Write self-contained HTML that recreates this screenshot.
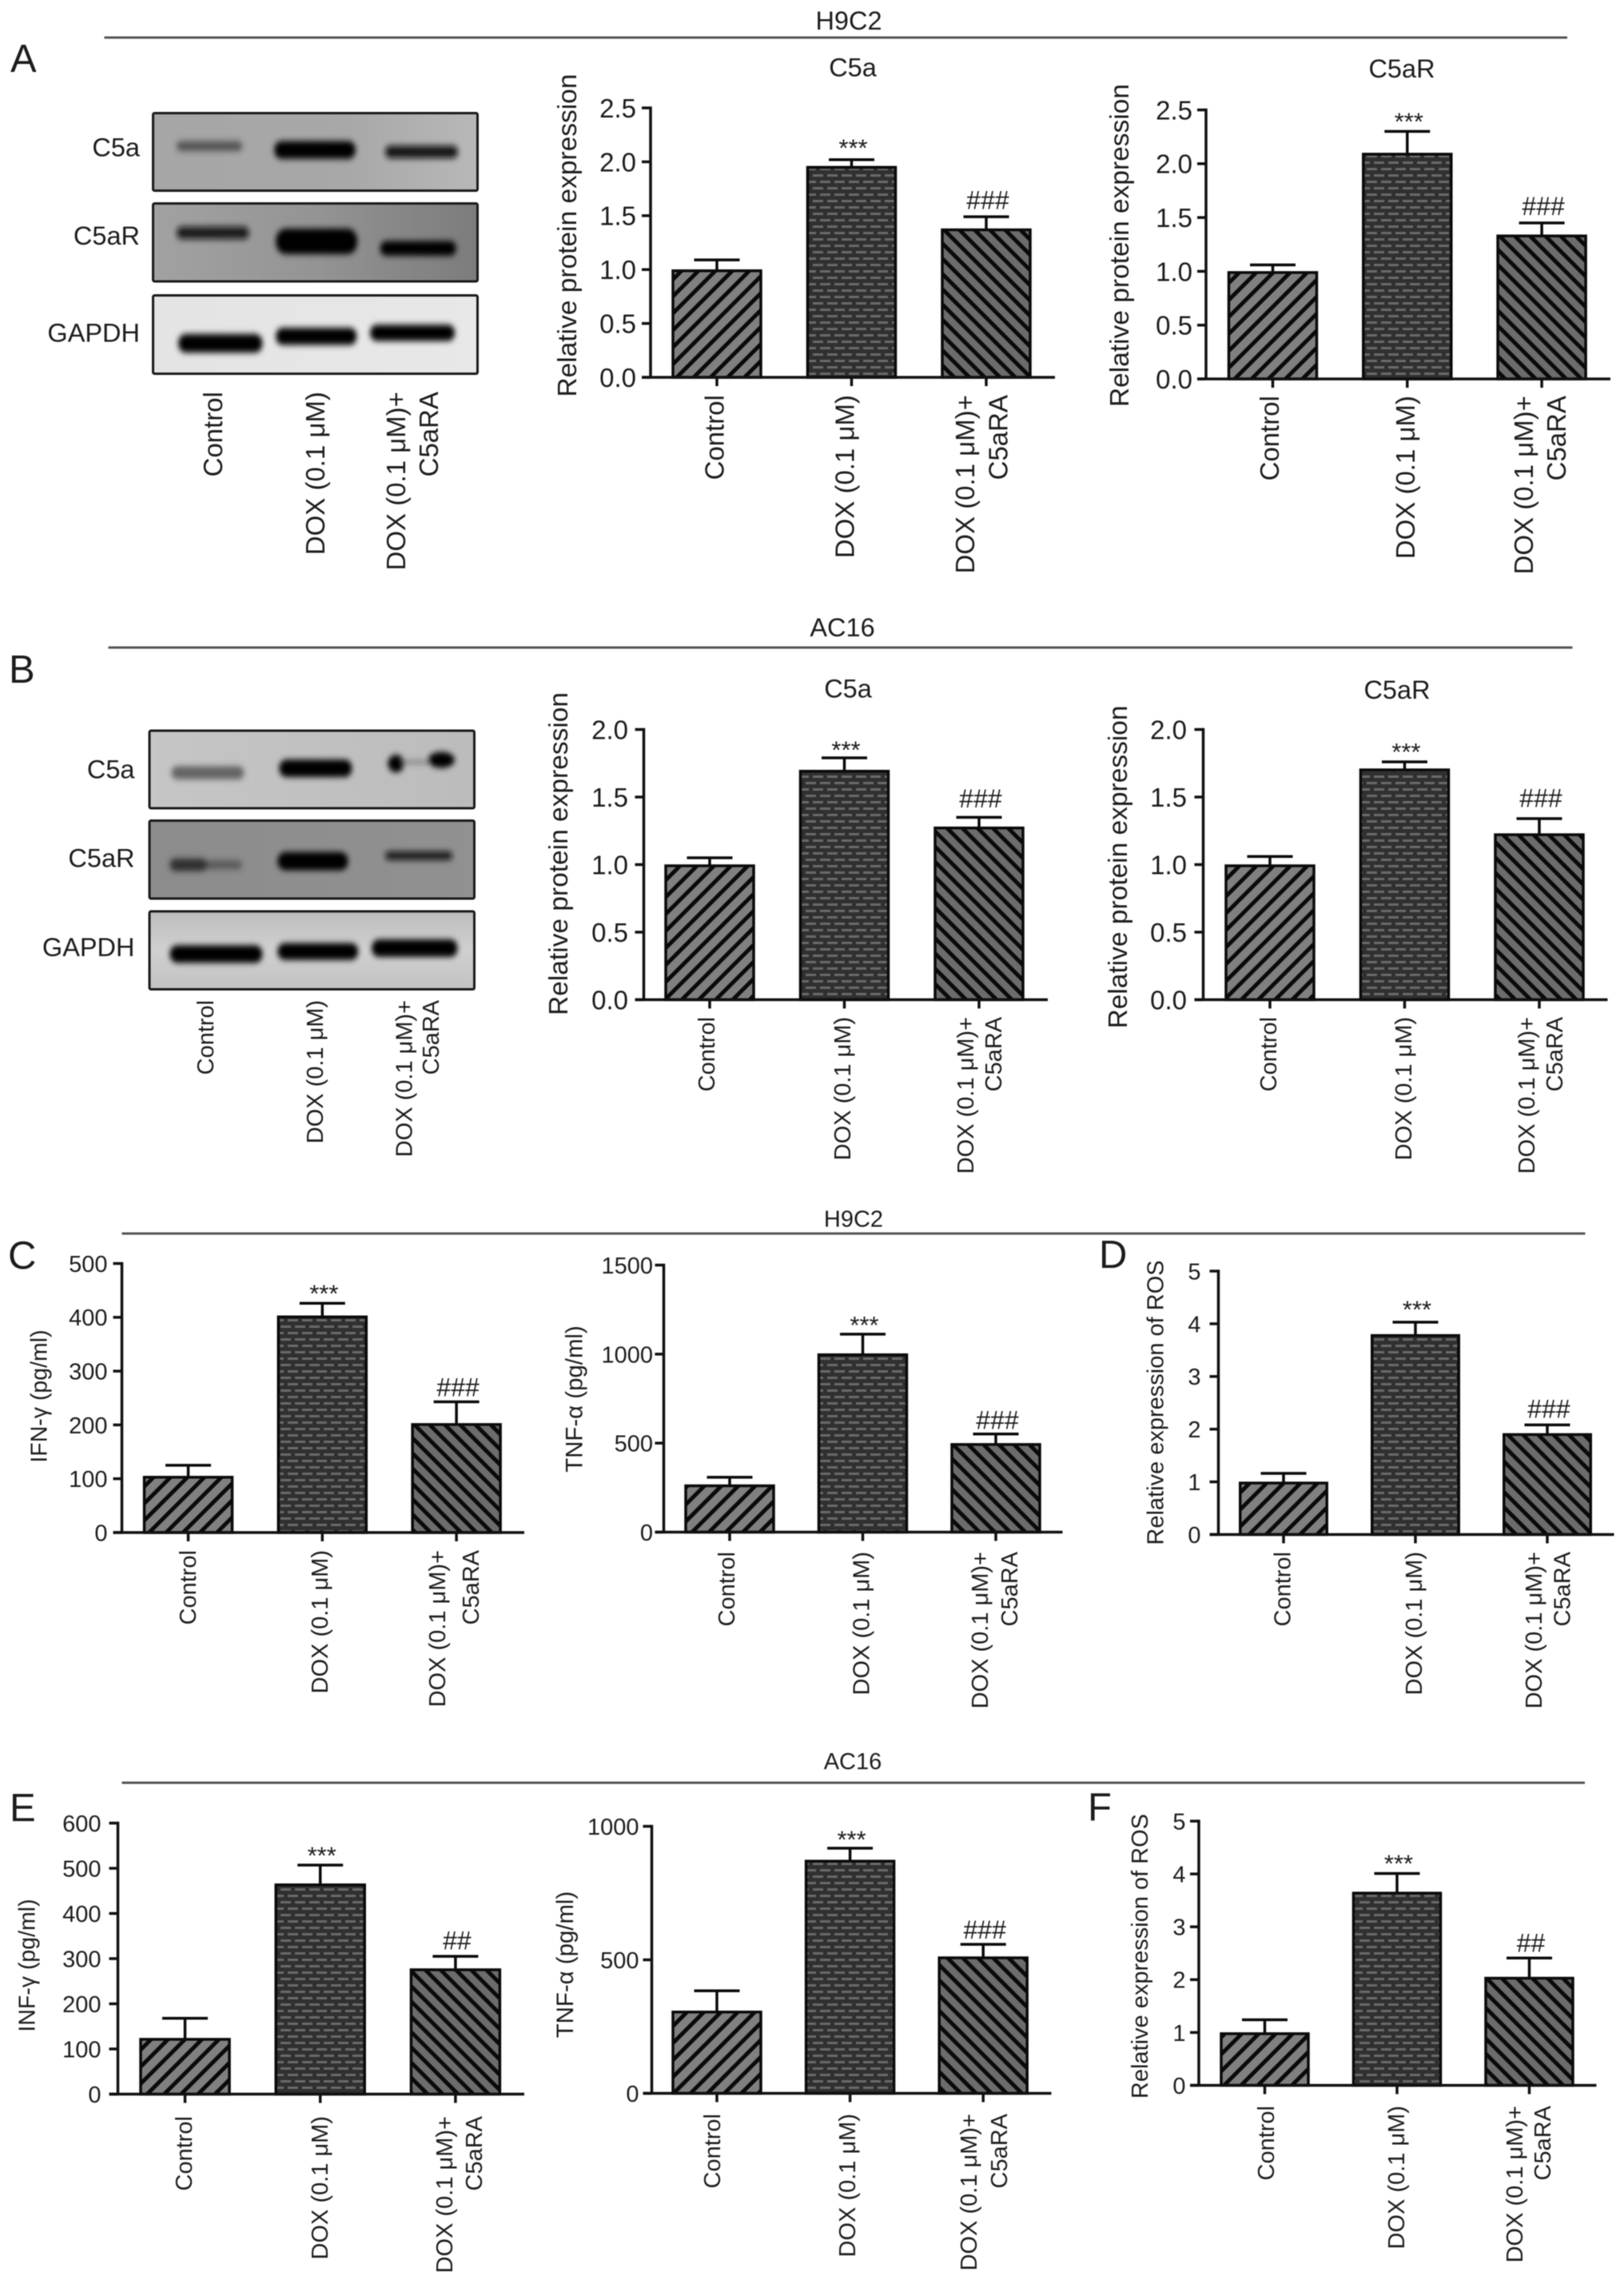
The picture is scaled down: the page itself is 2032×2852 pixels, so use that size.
<!DOCTYPE html>
<html lang="en">
<head>
<meta charset="utf-8">
<title>C5a and C5aR expression in H9C2 and AC16 cells</title>
<style>
html,body{margin:0;padding:0;background:#fff;}
svg{display:block;filter:blur(0.5px);}
text{font-family:"Liberation Sans",Arial,"Noto Sans CJK SC",sans-serif;fill:#1c1c1c;}
</style>
</head>
<body>
<svg id="figure" xmlns="http://www.w3.org/2000/svg" width="2032" height="2852" viewBox="0 0 2032 2852">
<defs>
  <pattern id="stripe-up" patternUnits="userSpaceOnUse" width="15" height="15" patternTransform="rotate(-45)">
    <rect width="15" height="15" fill="#808080"/><rect x="0" y="0" width="15" height="5" fill="#0a0a0a"/>
  </pattern>
  <pattern id="stripe-down" patternUnits="userSpaceOnUse" width="13.5" height="13.5" patternTransform="rotate(45)">
    <rect width="13.5" height="13.5" fill="#6c6c6c"/><rect x="0" y="0" width="13.5" height="5" fill="#0a0a0a"/>
  </pattern>
  <pattern id="brick" patternUnits="userSpaceOnUse" width="18" height="16">
    <rect width="18" height="16" fill="#303030"/>
    <rect x="0" y="2" width="13" height="3" fill="#6a6a6a"/>
    <rect x="9" y="10" width="13" height="3" fill="#6a6a6a"/>
    <rect x="-9" y="10" width="13" height="3" fill="#6a6a6a"/>
  </pattern>
  <filter id="blur" x="-30%" y="-100%" width="160%" height="300%"><feGaussianBlur stdDeviation="8"/></filter>
  <linearGradient id="bg-a1" x1="0" x2="1" y1="0" y2="0"><stop offset="0" stop-color="#a6a6a6"/><stop offset="0.6" stop-color="#a8a8a8"/><stop offset="1" stop-color="#b8b8b8"/></linearGradient>
  <linearGradient id="bg-a2" x1="0" x2="1" y1="0" y2="0"><stop offset="0" stop-color="#a2a2a2"/><stop offset="0.5" stop-color="#949494"/><stop offset="1" stop-color="#7c7c7c"/></linearGradient>
  <linearGradient id="bg-a3" x1="0" x2="1" y1="0" y2="0"><stop offset="0" stop-color="#e4e4e4"/><stop offset="1" stop-color="#e8e8e8"/></linearGradient>
  <linearGradient id="bg-b1" x1="0" x2="1" y1="0" y2="0"><stop offset="0" stop-color="#c6c6c6"/><stop offset="1" stop-color="#bcbcbc"/></linearGradient>
  <linearGradient id="bg-b2" x1="0" x2="1" y1="0" y2="0"><stop offset="0" stop-color="#8c8c8c"/><stop offset="1" stop-color="#919191"/></linearGradient>
  <linearGradient id="bg-b3" x1="0" x2="0" y1="0" y2="1"><stop offset="0" stop-color="#bdbdbd"/><stop offset="0.5" stop-color="#d0d0d0"/><stop offset="1" stop-color="#c2c2c2"/></linearGradient>
</defs>

<!-- Section headers -->
<g>
  <text x="1062" y="37" font-size="32.5" text-anchor="middle">H9C2</text>
  <line x1="130.5" y1="47" x2="1961" y2="47" stroke="#555" stroke-width="3"/>
</g>
<g>
  <text x="1054" y="796" font-size="32.5" text-anchor="middle">AC16</text>
  <line x1="135.5" y1="810" x2="1967.5" y2="810" stroke="#555" stroke-width="3"/>
</g>
<g>
  <text x="1068" y="1534.5" font-size="29" text-anchor="middle">H9C2</text>
  <line x1="152.5" y1="1543" x2="1983.5" y2="1543" stroke="#555" stroke-width="3"/>
</g>
<g>
  <text x="1067" y="2213" font-size="29" text-anchor="middle">AC16</text>
  <line x1="152.5" y1="2230" x2="1983" y2="2230" stroke="#555" stroke-width="3"/>
</g>

<!-- Panel letters -->
<text x="13" y="90" font-size="49" fill="#111">A</text>
<text x="11" y="854" font-size="49" fill="#111">B</text>
<text x="10" y="1587" font-size="49" fill="#111">C</text>
<text x="1375" y="1586" font-size="49" fill="#111">D</text>
<text x="12" y="2278" font-size="49" fill="#111">E</text>
<text x="1361" y="2277" font-size="49" fill="#111">F</text>

<!-- Western blot A -->
<g>
  <text x="175" y="195.5" font-size="32.5" text-anchor="end">C5a</text>
  <text x="175" y="306" font-size="32.5" text-anchor="end">C5aR</text>
  <text x="175" y="427.5" font-size="32.5" text-anchor="end">GAPDH</text>
  <rect x="191.5" y="141.5" width="406" height="97" fill="url(#bg-a1)"/>
  <rect x="191.5" y="254.5" width="406" height="97.5" fill="url(#bg-a2)"/>
  <rect x="191.5" y="369.5" width="406" height="98" fill="url(#bg-a3)"/>
  <g transform="scale(0.4209 0.4847)" filter="url(#blur)">
    <rect x="525" y="364" width="195" height="26" rx="13" fill="#333" opacity="0.7"/>
    <rect x="815" y="364" width="242" height="46" rx="22" fill="#000"/>
    <rect x="1145" y="376" width="216" height="32" rx="15" fill="#0a0a0a" opacity="0.95"/>
    <rect x="525" y="585" width="215" height="32" rx="15" fill="#0a0a0a" opacity="0.9"/>
    <rect x="820" y="590" width="242" height="66" rx="30" fill="#000"/>
    <rect x="1130" y="622" width="226" height="38" rx="18" fill="#000"/>
    <rect x="530" y="862" width="250" height="48" rx="22" fill="#000"/>
    <rect x="820" y="846" width="240" height="44" rx="20" fill="#000"/>
    <rect x="1100" y="838" width="252" height="42" rx="20" fill="#000"/>
  </g>
  <rect x="191.5" y="141.5" width="406" height="97" rx="2" fill="none" stroke="#1a1a1a" stroke-width="3"/>
  <rect x="191.5" y="254.5" width="406" height="97.5" rx="2" fill="none" stroke="#1a1a1a" stroke-width="3"/>
  <rect x="191.5" y="369.5" width="406" height="98" rx="2" fill="none" stroke="#1a1a1a" stroke-width="3"/>
  <text transform="translate(278 490) rotate(-90)" font-size="33" text-anchor="end">Control</text>
  <text transform="translate(406 490) rotate(-90)" font-size="33" text-anchor="end">DOX (0.1 μM)</text>
  <text transform="translate(507 490) rotate(-90)" font-size="33" text-anchor="end">DOX (0.1 μM)+</text>
  <text transform="translate(548 490) rotate(-90)" font-size="33" text-anchor="end">C5aRA</text>
</g>

<!-- Western blot B -->
<g>
  <text x="168.5" y="973.5" font-size="32.5" text-anchor="end">C5a</text>
  <text x="168.5" y="1084.5" font-size="32.5" text-anchor="end">C5aR</text>
  <text x="168.5" y="1196" font-size="32.5" text-anchor="end">GAPDH</text>
  <rect x="187" y="914" width="406.5" height="97" fill="url(#bg-b1)"/>
  <rect x="187" y="1026.5" width="406.5" height="97.5" fill="url(#bg-b2)"/>
  <rect x="187" y="1140" width="406.5" height="97.5" fill="url(#bg-b3)"/>
  <g transform="translate(0 760) scale(0.4209 0.4591)" filter="url(#blur)">
    <rect x="510" y="432" width="215" height="36" rx="17" fill="#444" opacity="0.75"/>
    <rect x="830" y="414" width="216" height="48" rx="22" fill="#000"/>
    <circle cx="1177" cy="425" r="24" fill="#050505"/>
    <ellipse cx="1312" cy="415" rx="40" ry="22" fill="#000"/>
    <rect x="1190" y="416" width="90" height="10" fill="#555" opacity="0.6"/>
    <rect x="505" y="684" width="110" height="34" rx="16" fill="#1c1c1c" opacity="0.85"/>
    <rect x="600" y="688" width="120" height="26" rx="13" fill="#3a3a3a" opacity="0.6"/>
    <rect x="825" y="666" width="210" height="50" rx="24" fill="#000"/>
    <rect x="1145" y="664" width="200" height="24" rx="12" fill="#111" opacity="0.9"/>
    <rect x="505" y="920" width="275" height="48" rx="22" fill="#000"/>
    <rect x="825" y="914" width="240" height="46" rx="22" fill="#000"/>
    <rect x="1105" y="904" width="255" height="48" rx="22" fill="#000"/>
  </g>
  <rect x="187" y="914" width="406.5" height="97" rx="2" fill="none" stroke="#1a1a1a" stroke-width="3"/>
  <rect x="187" y="1026.5" width="406.5" height="97.5" rx="2" fill="none" stroke="#1a1a1a" stroke-width="3"/>
  <rect x="187" y="1140" width="406.5" height="97.5" rx="2" fill="none" stroke="#1a1a1a" stroke-width="3"/>
  <text transform="translate(267 1251) rotate(-90)" font-size="29" text-anchor="end">Control</text>
  <text transform="translate(404 1251) rotate(-90)" font-size="29" text-anchor="end">DOX (0.1 μM)</text>
  <text transform="translate(515.5 1251) rotate(-90)" font-size="29" text-anchor="end">DOX (0.1 μM)+</text>
  <text transform="translate(549 1251) rotate(-90)" font-size="29" text-anchor="end">C5aRA</text>
</g>

<g id="charts"></g>
</svg>

<script>
// ---- Chart data ----
const categories = ["Control", "DOX (0.1 μM)", "DOX (0.1 μM)+\nC5aRA"];

const a1Values = [1.00, 1.96, 1.38];
const a1Errors = [0.09, 0.06, 0.11];
const a1Ticks = ["0.0", "0.5", "1.0", "1.5", "2.0", "2.5"];
const a1Marks = ["", "***", "###"];

const a2Values = [1.00, 2.10, 1.34];
const a2Errors = [0.06, 0.20, 0.11];
const a2Ticks = ["0.0", "0.5", "1.0", "1.5", "2.0", "2.5"];
const a2Marks = ["", "***", "###"];

const b1Values = [1.00, 1.70, 1.28];
const b1Errors = [0.05, 0.09, 0.07];
const b1Ticks = ["0.0", "0.5", "1.0", "1.5", "2.0"];
const b1Marks = ["", "***", "###"];

const b2Values = [1.00, 1.71, 1.23];
const b2Errors = [0.06, 0.05, 0.11];
const b2Ticks = ["0.0", "0.5", "1.0", "1.5", "2.0"];
const b2Marks = ["", "***", "###"];

const c1Values = [105, 403, 203];
const c1Errors = [20, 23, 40];
const c1Ticks = ["0", "100", "200", "300", "400", "500"];
const c1Marks = ["", "***", "###"];

const c2Values = [267, 1003, 499];
const c2Errors = [41, 109, 52];
const c2Ticks = ["0", "500", "1000", "1500"];
const c2Marks = ["", "***", "###"];

const dValues = [1.00, 3.80, 1.92];
const dErrors = [0.16, 0.23, 0.16];
const dTicks = ["0", "1", "2", "3", "4", "5"];
const dMarks = ["", "***", "###"];

const e1Values = [124, 466, 278];
const e1Errors = [44, 41, 27];
const e1Ticks = ["0", "100", "200", "300", "400", "500", "600"];
const e1Marks = ["", "***", "##"];

const e2Values = [309, 874, 512];
const e2Errors = [75, 44, 46];
const e2Ticks = ["0", "500", "1000"];
const e2Marks = ["", "***", "###"];

const fValues = [1.00, 3.66, 2.05];
const fErrors = [0.24, 0.35, 0.36];
const fTicks = ["0", "1", "2", "3", "4", "5"];
const fMarks = ["", "***", "##"];

// ---- Panel layout (geometry only) ----
const panels = [
  {key:'a-c5a', values:a1Values, errors:a1Errors, ticks:a1Ticks, marks:a1Marks, yTitle:'Relative protein expression', title:'C5a',
   axisX:814, yTop:135, yBottom:472, first:897, step:168.5, barW:110, end:1320, tickRight:796,
   yTitleX:721, yTitleY:294.5, catTop:494, catX:[905.5,1068.5,1219,1260.5], catFont:33, tickFont:33, yFont:33.5,
   titleX:1067, titleY:95.5, starGap:22, hashGap:21},
  {key:'a-c5ar', values:a2Values, errors:a2Errors, ticks:a2Ticks, marks:a2Marks, yTitle:'Relative protein expression', title:'C5aR',
   axisX:1509, yTop:137.5, yBottom:474, first:1592.5, step:168.3, barW:110, end:2015, tickRight:1492,
   yTitleX:1412, yTitleY:307, catTop:495, catX:[1600,1770,1918,1959], catFont:33, tickFont:33, yFont:33.5,
   titleX:1754, titleY:97, starGap:20, hashGap:21},
  {key:'b-c5a', values:b1Values, errors:b1Errors, ticks:b1Ticks, marks:b1Marks, yTitle:'Relative protein expression', title:'C5a',
   axisX:805.5, yTop:912.5, yBottom:1250.5, first:888, step:168.5, barW:110, end:1311, tickRight:786,
   yTitleX:710, yTitleY:1068, catTop:1272, catX:[894,1064,1218,1253], catFont:29, tickFont:33, yFont:33.5,
   titleX:1061, titleY:872.5, starGap:17.5, hashGap:23.5},
  {key:'b-c5ar', values:b2Values, errors:b2Errors, ticks:b2Ticks, marks:b2Marks, yTitle:'Relative protein expression', title:'C5aR',
   axisX:1505.5, yTop:912.5, yBottom:1250.5, first:1589, step:168.5, barW:110, end:2011.5, tickRight:1485,
   yTitleX:1410, yTitleY:1084.5, catTop:1272, catX:[1597,1766,1920,1955], catFont:29, tickFont:33, yFont:33.5,
   titleX:1748, titleY:874, starGap:20, hashGap:26},
  {key:'c-ifn', values:c1Values, errors:c1Errors, ticks:c1Ticks, marks:c1Marks, yTitle:'IFN-γ (pg/ml)',
   axisX:152.5, yTop:1580.5, yBottom:1917, first:235.5, step:167.8, barW:110, end:656, tickRight:134.5,
   yTitleX:58.5, yTitleY:1746.5, catTop:1939, catX:[245,410,557,599], catFont:29, tickFont:29, yFont:28.5,
   starGap:20, hashGap:18.5},
  {key:'c-tnf', values:c2Values, errors:c2Errors, ticks:c2Ticks, marks:c2Marks, yTitle:'TNF-α (pg/ml)',
   axisX:830.5, yTop:1582.5, yBottom:1916.5, first:913, step:166.5, barW:110, end:1329.5, tickRight:817,
   yTitleX:728.5, yTitleY:1750, catTop:1941, catX:[919,1087.5,1236,1273], catFont:29, tickFont:29, yFont:29.4,
   starGap:19, hashGap:17.5},
  {key:'d-ros', values:dValues, errors:dErrors, ticks:dTicks, marks:dMarks, yTitle:'Relative expression of ROS',
   axisX:1524.5, yTop:1590, yBottom:1919.5, first:1606, step:165, barW:108.5, end:2019.5, tickRight:1502.5,
   yTitleX:1455.5, yTitleY:1754.5, catTop:1941, catX:[1614.5,1779,1929,1964.5], catFont:29, tickFont:29, yFont:29,
   starGap:23.5, hashGap:20.5},
  {key:'e-inf', values:e1Values, errors:e1Errors, ticks:e1Ticks, marks:e1Marks, yTitle:'INF-γ (pg/ml)',
   axisX:147.5, yTop:2280.5, yBottom:2619.5, first:231.5, step:169.2, barW:111, end:656, tickRight:126.5,
   yTitleX:43.5, yTitleY:2458.5, catTop:2647, catX:[240,410,566,603], catFont:29, tickFont:29, yFont:28.5,
   starGap:19.5, hashGap:20},
  {key:'e-tnf', values:e2Values, errors:e2Errors, ticks:e2Ticks, marks:e2Marks, yTitle:'TNF-α (pg/ml)',
   axisX:815.5, yTop:2284.5, yBottom:2618.5, first:897, step:166.6, barW:110, end:1315.5, tickRight:799.5,
   yTitleX:717, yTitleY:2457.5, catTop:2644, catX:[901,1070,1222,1260], catFont:29, tickFont:29, yFont:29.4,
   starGap:18.5, hashGap:18.5},
  {key:'f-ros', values:fValues, errors:fErrors, ticks:fTicks, marks:fMarks, yTitle:'Relative expression of ROS',
   axisX:1500, yTop:2278, yBottom:2608.5, first:1582.5, step:165.5, barW:109, end:1997.5, tickRight:1483.5,
   yTitleX:1436, yTitleY:2447, catTop:2634, catX:[1594,1757,1905,1940], catFont:29, tickFont:29, yFont:29,
   starGap:20, hashGap:19}
];

const barFills = ['url(#stripe-up)', 'url(#brick)', 'url(#stripe-down)'];
const barSlugs = ['control', 'dox', 'dox-c5ara'];
const SVG_NS = 'http://www.w3.org/2000/svg';
const root = document.getElementById('charts');

function make(parent, tag, attrs, text) {
  const node = document.createElementNS(SVG_NS, tag);
  for (const k in attrs) node.setAttribute(k, attrs[k]);
  if (text !== undefined) node.textContent = text;
  parent.appendChild(node);
  return node;
}

function drawPanel(p) {
  const maxTick = parseFloat(p.ticks[p.ticks.length - 1]);
  const yScale = v => p.yBottom - (v / maxTick) * (p.yBottom - p.yTop);
  const xScale = i => p.first + i * p.step;

  const g = make(root, 'g', {});
  
  

  if (p.title) {
    const title = make(g, 'text', {x: p.titleX, y: p.titleY, 'font-size': 32.5, 'text-anchor': 'middle'}, p.title);
    
    
  }

  const yTitle = make(g, 'text', {
    transform: 'translate(' + p.yTitleX + ' ' + p.yTitleY + ') rotate(-90)',
    'font-size': p.yFont, 'text-anchor': 'middle'
  }, p.yTitle);
  
  

  // bars
  p.values.forEach((v, i) => {
    const top = yScale(v) + 1.5;
    const bar = make(g, 'rect', {
      x: xScale(i) - p.barW / 2, y: top, width: p.barW, height: p.yBottom - top,
      fill: barFills[i], stroke: '#0a0a0a', 'stroke-width': 3.5
    });
    
    
  });

  // error bars and significance marks
  p.values.forEach((v, i) => {
    const top = yScale(v);
    const errTop = yScale(v + p.errors[i]);
    const cx = xScale(i);
    const stem = make(g, 'line', {x1: cx, x2: cx, y1: top, y2: errTop, stroke: '#0a0a0a', 'stroke-width': 3.5});
    
    
    const cap = make(g, 'line', {x1: cx - 28.5, x2: cx + 28.5, y1: errTop, y2: errTop, stroke: '#0a0a0a', 'stroke-width': 3.5});
    
    
    const mark = p.marks[i];
    if (mark) {
      const isStar = mark.charAt(0) === '*';
      const centre = errTop - (isStar ? p.starGap : p.hashGap);
      const size = isStar ? 31 : 32;
      const baseline = centre + size * (isStar ? 0.58 : 0.355);
      const label = make(g, 'text', {x: cx + 2, y: baseline, 'font-size': size, 'text-anchor': 'middle'}, mark);
      
      
    }
  });

  // y axis
  const yAxis = make(g, 'line', {x1: p.axisX, x2: p.axisX, y1: p.yTop - 1.7, y2: p.yBottom, stroke: '#111', 'stroke-width': 3.5});
  
  
  p.ticks.forEach(t => {
    const y = yScale(parseFloat(t));
    const tick = make(g, 'line', {x1: p.axisX - 11, x2: p.axisX, y1: y, y2: y, stroke: '#111', 'stroke-width': 3.5});
    
    
    const label = make(g, 'text', {x: p.tickRight, y: y + p.tickFont * 0.36, 'font-size': p.tickFont, 'text-anchor': 'end'}, t);
    
    
  });

  // x axis
  const xAxis = make(g, 'line', {x1: p.axisX - 11, x2: p.end, y1: p.yBottom, y2: p.yBottom, stroke: '#111', 'stroke-width': 3.5});
  
  
  let slot = 0;
  categories.forEach((c, i) => {
    const cx = xScale(i);
    const tick = make(g, 'line', {x1: cx, x2: cx, y1: p.yBottom, y2: p.yBottom + 11, stroke: '#111', 'stroke-width': 3.5});
    
    
    c.split('\n').forEach(line => {
      const label = make(g, 'text', {
        transform: 'translate(' + p.catX[slot] + ' ' + p.catTop + ') rotate(-90)',
        'font-size': p.catFont, 'text-anchor': 'end'
      }, line);
      
      
      slot++;
    });
  });
}

panels.forEach(drawPanel);
</script>
</body>
</html>
